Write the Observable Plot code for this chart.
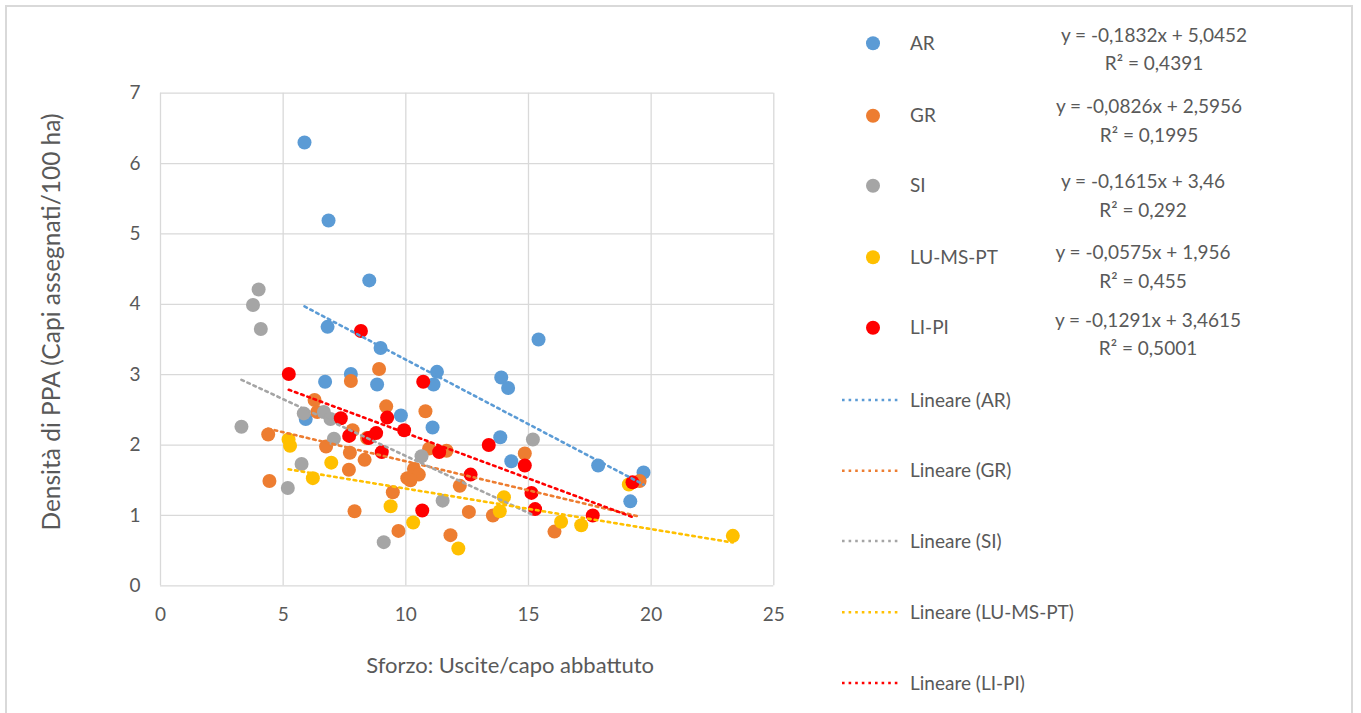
<!DOCTYPE html>
<html>
<head>
<meta charset="utf-8">
<script src="https://cdn.jsdelivr.net/npm/d3@7"></script>
<script src="https://cdn.jsdelivr.net/npm/@observablehq/plot@0.6"></script>
<style>
  html, body { margin: 0; padding: 0; background: #fff; }
  #wrap { position: relative; width: 1361px; height: 713px; overflow: hidden; font-family: Lato, "Open Sans", sans-serif; }
  #frame { position: absolute; left: 5px; top: 5px; width: 1348px; height: 740px; border: 2px solid #d9d9d9; box-sizing: border-box; }
  #chart { position: absolute; left: 0; top: 0; }
  #legend { position: absolute; left: 0; top: 0; }
</style>
</head>
<body>
<div id="wrap"><div id="frame"></div><div id="chart"></div><svg id="legend" width="1361" height="713"></svg></div>
<script>
// ---- data ----
const seriesNames = ["AR", "GR", "SI", "LU-MS-PT", "LI-PI"];
const seriesColors = ["#5B9BD5", "#ED7D31", "#A5A5A5", "#FFC000", "#FF0000"];

const arX = [5.87, 6.85, 8.51, 6.81, 8.97, 7.76, 6.71, 8.83, 11.27, 11.13, 5.92, 9.80, 11.09, 15.41, 13.89, 14.17, 13.85, 14.30, 17.84, 19.69, 19.15];
const arY = [6.30, 5.19, 4.34, 3.68, 3.38, 3.01, 2.90, 2.86, 3.04, 2.86, 2.37, 2.42, 2.25, 3.50, 2.96, 2.81, 2.11, 1.77, 1.71, 1.61, 1.20];

const grX = [8.91, 7.76, 6.28, 6.39, 9.20, 10.80, 4.39, 7.83, 6.75, 7.72, 8.32, 7.68, 10.95, 11.66, 8.42, 4.44, 10.06, 10.33, 10.53, 10.19, 9.47, 7.91, 12.20, 12.57, 9.70, 11.82, 14.85, 13.55, 16.06, 19.53];
const grY = [3.08, 2.91, 2.64, 2.47, 2.55, 2.48, 2.15, 2.21, 1.98, 1.89, 1.79, 1.65, 1.95, 1.92, 2.10, 1.49, 1.53, 1.66, 1.58, 1.50, 1.33, 1.06, 1.42, 1.05, 0.78, 0.72, 1.88, 1.00, 0.77, 1.49];

const siX = [4.00, 3.77, 4.09, 3.30, 5.84, 6.66, 6.93, 7.07, 5.75, 5.19, 10.64, 11.50, 9.10, 15.18];
const siY = [4.21, 3.99, 3.65, 2.26, 2.45, 2.47, 2.37, 2.09, 1.73, 1.39, 1.84, 1.21, 0.62, 2.08];

const luX = [5.22, 5.28, 6.21, 6.96, 9.38, 10.30, 12.14, 14.00, 13.83, 16.33, 17.15, 19.09, 23.33];
const luY = [2.08, 1.99, 1.53, 1.75, 1.13, 0.90, 0.53, 1.26, 1.06, 0.91, 0.86, 1.44, 0.71];

const liX = [8.17, 5.23, 10.71, 7.35, 9.24, 9.93, 7.69, 8.79, 8.49, 9.02, 11.36, 10.67, 12.64, 13.38, 14.85, 15.12, 15.27, 17.62, 19.24];
const liY = [3.62, 3.01, 2.90, 2.38, 2.39, 2.21, 2.13, 2.17, 2.10, 1.90, 1.90, 1.07, 1.58, 2.00, 1.71, 1.32, 1.09, 1.00, 1.47];

// trend line equations as printed in the chart
const slopes = [-0.1832, -0.0826, -0.1615, -0.0575, -0.1291];
const intercepts = [5.0452, 2.5956, 3.46, 1.956, 3.4615];
const r2Values = [0.4391, 0.1995, 0.292, 0.455, 0.5001];

const xTicks = [0, 5, 10, 15, 20, 25];
const yTicks = [0, 1, 2, 3, 4, 5, 6, 7];
const xTitle = "Sforzo: Uscite/capo abbattuto";
const yTitle = "Densità di PPA (Capi assegnati/100 ha)";
const trendPrefix = "Lineare";

// ---- build tables ----
const xs = [arX, grX, siX, luX, liX];
const ys = [arY, grY, siY, luY, liY];
const points = [];
seriesNames.forEach((s, i) => xs[i].forEach((x, j) => points.push({series: s, x, y: ys[i][j]})));
const trends = [];
seriesNames.forEach((s, i) => {
  const [x0, x1] = d3.extent(xs[i]);
  trends.push({series: s, x: x0, y: slopes[i] * x0 + intercepts[i]});
  trends.push({series: s, x: x1, y: slopes[i] * x1 + intercepts[i]});
});

const W = 1361, H = 713;
const mL = 160, mR = W - 773.3, mT = 92.7, mB = H - 585.3;
const textColor = "#595959";
const font = "Lato, 'Open Sans', sans-serif";

const plot = Plot.plot({
  width: W, height: H,
  marginLeft: mL, marginRight: mR, marginTop: mT, marginBottom: mB,
  style: {fontFamily: font, background: "transparent", overflow: "visible"},
  x: {domain: [0, 25]},
  y: {domain: [0, 7]},
  color: {domain: seriesNames, range: seriesColors},
  marks: [
    Plot.gridX(xTicks, {stroke: "#d9d9d9", strokeOpacity: 1, strokeWidth: 1.3}),
    Plot.gridY(yTicks, {stroke: "#d9d9d9", strokeOpacity: 1, strokeWidth: 1.3}),
    Plot.axisX({ticks: xTicks, tickSize: 0, tickPadding: 22, fontSize: 19, fill: textColor, label: null, tickFormat: d => String(d)}),
    Plot.axisY({ticks: yTicks, tickSize: 0, tickPadding: 20, fontSize: 19, fill: textColor, label: null, tickFormat: d => String(d)}),
    Plot.dot(points, {x: "x", y: "y", fill: "series", r: 7, stroke: "none"}),
    Plot.line(trends, {x: "x", y: "y", z: "series", stroke: "series", strokeWidth: 2.6, strokeDasharray: "2.6 4"}),
    Plot.text([xTitle], {frameAnchor: "bottom", dx: 43, dy: 87, fontSize: 22, fill: textColor, text: d => d})
  ]
});
document.getElementById("chart").appendChild(plot);

// ---- y title and legend ----
const fmt = v => String(v).replace(".", ",");
const leg = d3.select("#legend").style("font-family", font);
leg.append("text").attr("transform", "translate(51,322) rotate(-90)").attr("dy", "0.35em")
  .attr("text-anchor", "middle").attr("font-size", 24.5).attr("fill", textColor).text(yTitle);

const markerY = [43.3, 115.7, 185.7, 257.3, 327.7];
const eqY = [35, 106.7, 181.7, 252.7, 320];
const eqX = [1154, 1149, 1143, 1143, 1148];
const trendLegY = [400, 470.7, 541, 612.3, 683];
seriesNames.forEach((s, i) => {
  leg.append("circle").attr("cx", 873).attr("cy", markerY[i]).attr("r", 7).attr("fill", seriesColors[i]);
  leg.append("text").attr("x", 910).attr("y", markerY[i]).attr("dy", "0.35em")
    .attr("font-size", 19).attr("fill", textColor).text(s);
  leg.append("text").attr("x", eqX[i]).attr("y", eqY[i]).attr("dy", "0.35em").attr("text-anchor", "middle")
    .attr("font-size", 19).attr("fill", textColor)
    .text(`y = ${fmt(slopes[i])}x + ${fmt(intercepts[i])}`);
  leg.append("text").attr("x", eqX[i]).attr("y", eqY[i] + 28.5).attr("dy", "0.35em").attr("text-anchor", "middle")
    .attr("font-size", 19).attr("fill", textColor).text(`R² = ${fmt(r2Values[i])}`);
  leg.append("line").attr("x1", 842).attr("x2", 900).attr("y1", trendLegY[i]).attr("y2", trendLegY[i])
    .attr("stroke", seriesColors[i]).attr("stroke-width", 2.6).attr("stroke-dasharray", "2.6 4");
  leg.append("text").attr("x", 910).attr("y", trendLegY[i]).attr("dy", "0.35em")
    .attr("font-size", 19).attr("fill", textColor).text(`${trendPrefix} (${s})`);
});
</script>
</body>
</html>
